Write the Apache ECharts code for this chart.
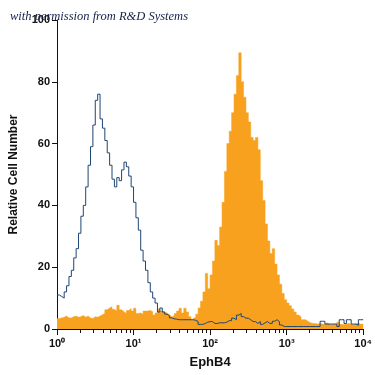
<!DOCTYPE html>
<html>
<head>
<meta charset="utf-8">
<script src="https://cdn.jsdelivr.net/npm/echarts@6/dist/echarts.min.js"></script>
<style>
html,body{margin:0;padding:0;background:#fff;}
#chart{width:375px;height:375px;}
</style>
</head>
<body>
<div id="chart"></div>
<script>
// Histogram bins: equal width in log space across 10^0 .. 10^4
const nBins = 128;
const xMin = 1;
const xMax = 10000;

// Isotype control (blue outline)
const blueCounts = [
  11, 10.5, 10, 12, 14, 17, 19, 23, 26, 31,
  36.5, 40, 46, 53, 59, 66, 74, 76, 68, 65,
  61, 57, 53, 48.5, 46, 49, 48, 51.5, 54, 52.5,
  49.5, 46, 41, 36, 32, 25.5, 22, 19, 15, 12,
  10, 8.4, 5.5, 6.8, 5.5, 4.8, 4.3, 3.6, 3.3, 3.2,
  3, 3, 3, 3, 3, 3, 3, 2.8, 2.4, 1.5,
  1.5, 1.8, 2.2, 2.4, 2.4, 1.8, 1.8, 2, 2, 2,
  2.2, 2.7, 2.7, 3.5, 3, 4.5, 5, 4, 3.5, 3.5,
  3, 2.4, 2.4, 1.8, 2.4, 1.5, 2, 2.4, 1.8, 1.8,
  2.5, 3, 2.4, 1.3, 0.8, 0.8, 0.8, 0.8, 0.8, 0.8,
  0.8, 0.8, 0.8, 0.8, 0.8, 0.8, 0.8, 0.8, 0.8, 0.8,
  2.5, 2.5, 1.6, 1.6, 1.6, 1.6, 1.6, 0.8, 3, 3,
  1.8, 3, 3, 1.6, 1.6, 1.2, 3, 3
];

// EphB4 stained cells (orange filled)
const orangeCounts = [
  3.4, 3.6, 3.8, 4.2, 3.6, 3.6, 4, 4.2, 3.8, 4,
  4.4, 3.8, 4.2, 3.6, 3.4, 4, 3.8, 4.2, 4.6, 5,
  6.2, 6.8, 7.2, 6.4, 5.8, 7.7, 6.2, 5.6, 5, 6,
  6.6, 5.8, 6.7, 5, 5.2, 4.8, 5.8, 5.8, 6, 5.6,
  4.5, 5.2, 6.5, 5.8, 5.6, 5.2, 4.6, 4, 4.2, 5,
  5.8, 6.7, 5.2, 6.7, 5.5, 4, 2.9, 3.6, 4.8, 6.8,
  9, 12, 18, 13, 17.5, 22, 28.7, 27, 33, 41,
  51, 60, 64, 70, 76, 82, 89.4, 80, 75, 70,
  67, 62, 61, 62, 58, 48, 41.6, 34, 28.5, 24.4,
  26, 21, 17.5, 14.5, 11.5, 9.5, 8.4, 7.5, 6.5, 5.5,
  4.5, 4, 3, 3, 2.4, 2, 1.8, 1.8, 1.6, 1.8,
  1.6, 1.5, 2, 1.5, 1.4, 1.6, 1.5, 2.2, 1.5, 1.4,
  1.6, 1.8, 1.5, 1.4, 1.6, 2, 1.5, 1.6
];

const xTickLabels = ['10\u2070', '10\u00b9', '10\u00b2', '10\u00b3', '10\u2074'];
const minorTickValues = [2,3,4,5,6,7,8,9,20,30,40,50,60,70,80,90,200,300,400,500,600,700,800,900,2000,3000,4000,5000,6000,7000,8000,9000];
const yMin = 0, yMax = 100, yStep = 20;
const xAxisTitle = 'EphB4';
const yAxisTitle = 'Relative Cell Number';
const watermark = 'with permission from R&D Systems';

function binEdge(i) {
  return Math.pow(10, Math.log10(xMin) + (Math.log10(xMax) - Math.log10(xMin)) * i / nBins);
}
function toSteps(counts) {
  const pts = counts.map((c, i) => [binEdge(i), c]);
  pts.push([binEdge(counts.length), counts[counts.length - 1]]);
  return pts;
}

const labelFont = '"Liberation Sans", Arial, sans-serif';
const chart = echarts.init(document.getElementById('chart'), null, {renderer: 'canvas'});
chart.setOption({
  animation: false,
  backgroundColor: '#fff',
  grid: {left: 55, right: 9, top: 20, bottom: 46, containLabel: false},
  xAxis: [{
    type: 'log', min: xMin, max: xMax, logBase: 10, position: 'bottom',
    name: xAxisTitle, nameLocation: 'middle', nameGap: 27,
    nameTextStyle: {fontFamily: labelFont, fontWeight: 'bold', fontSize: 13, color: '#111'},
    axisLine: {show: true, lineStyle: {color: '#111', width: 1}},
    axisTick: {show: true, length: 6, lineStyle: {color: '#111', width: 1}},
    axisLabel: {
      show: true, margin: 9, fontFamily: labelFont, fontWeight: 'bold', fontSize: 11, color: '#111',
      formatter: v => xTickLabels[Math.round(Math.log10(v))]
    },
    splitLine: {show: false}, minorTick: {show: false}
  }, {
    type: 'log', min: xMin, max: xMax, logBase: 10, position: 'bottom',
    axisLine: {show: false},
    axisTick: {show: true, length: 4, customValues: minorTickValues, lineStyle: {color: '#111', width: 1}},
    axisLabel: {show: false},
    splitLine: {show: false}
  }],
  yAxis: {
    type: 'value', min: yMin, max: yMax, interval: yStep,
    name: yAxisTitle, nameLocation: 'middle', nameGap: 37, nameRotate: 90,
    nameTextStyle: {fontFamily: labelFont, fontWeight: 'bold', fontSize: 12, color: '#111'},
    axisLine: {show: true, lineStyle: {color: '#111', width: 1}},
    axisTick: {show: true, length: 5, lineStyle: {color: '#111', width: 1}},
    axisLabel: {margin: 7, fontFamily: labelFont, fontWeight: 'bold', fontSize: 11, color: '#111'},
    splitLine: {show: false}
  },
  graphic: [{
    type: 'text', left: 10, top: 10, z: 100,
    style: {text: watermark, fontFamily: '"Liberation Serif", "DejaVu Serif", serif', fontStyle: 'italic', fontSize: 12.5, fill: '#15204a'}
  }],
  series: [{
    type: 'line', name: 'EphB4', xAxisIndex: 0, data: toSteps(orangeCounts), step: 'end',
    showSymbol: false, symbol: 'none',
    lineStyle: {width: 0.5, color: '#f7a11f'},
    areaStyle: {color: '#f7a11f', opacity: 1},
    z: 2
  }, {
    type: 'line', name: 'Isotype', xAxisIndex: 0, data: toSteps(blueCounts), step: 'end',
    showSymbol: false, symbol: 'none',
    lineStyle: {width: 1, color: '#1f4672'},
    z: 3
  }]
});
</script>
</body>
</html>
